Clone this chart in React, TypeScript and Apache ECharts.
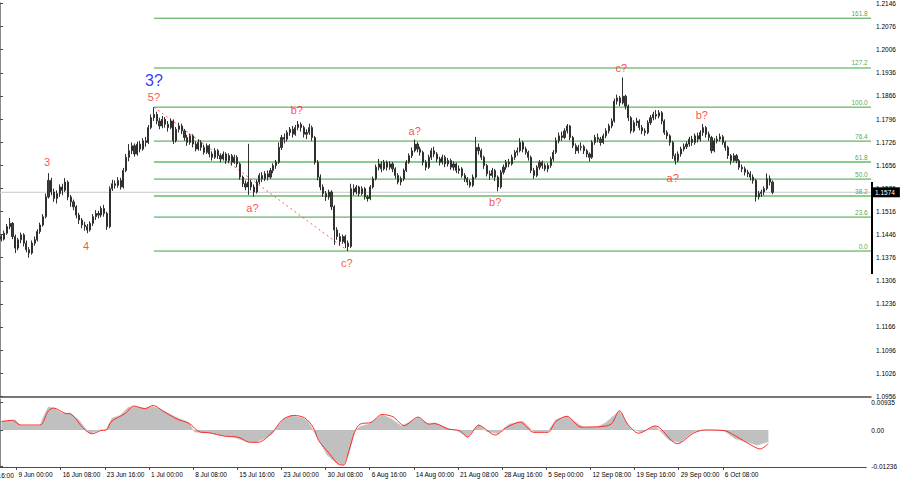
import React, { useEffect, useRef } from 'react';
import * as echarts from 'echarts';

// [open, close, low, high] per bar
const candles: number[][] = [
  [1.1440,1.1432,1.1425,1.1446],[1.1432,1.1450,1.1428,1.1458],[1.1450,1.1470,1.1445,1.1478],[1.1470,1.1480,1.1462,1.1496],
  [1.1480,1.1440,1.1432,1.1484],[1.1440,1.1405,1.1390,1.1446],[1.1405,1.1430,1.1398,1.1436],[1.1430,1.1445,1.1420,1.1452],
  [1.1445,1.1420,1.1410,1.1450],[1.1420,1.1400,1.1392,1.1428],[1.1400,1.1390,1.1376,1.1408],[1.1390,1.1420,1.1385,1.1428],
  [1.1420,1.1430,1.1412,1.1440],[1.1430,1.1455,1.1425,1.1462],[1.1455,1.1475,1.1448,1.1482],[1.1475,1.1500,1.1470,1.1508],
  [1.1500,1.1560,1.1495,1.1570],[1.1560,1.1610,1.1555,1.1632],[1.1610,1.1575,1.1565,1.1618],[1.1575,1.1555,1.1545,1.1585],
  [1.1555,1.1570,1.1540,1.1580],[1.1570,1.1590,1.1560,1.1598],[1.1590,1.1580,1.1565,1.1600],[1.1580,1.1605,1.1575,1.1617],
  [1.1605,1.1560,1.1550,1.1610],[1.1560,1.1545,1.1530,1.1566],[1.1545,1.1530,1.1520,1.1552],[1.1530,1.1505,1.1495,1.1535],
  [1.1505,1.1490,1.1478,1.1512],[1.1490,1.1475,1.1465,1.1496],[1.1475,1.1470,1.1458,1.1485],[1.1470,1.1460,1.1450,1.1478],
  [1.1460,1.1480,1.1455,1.1486],[1.1480,1.1500,1.1472,1.1508],[1.1500,1.1510,1.1490,1.1520],[1.1510,1.1505,1.1495,1.1518],
  [1.1505,1.1525,1.1498,1.1532],[1.1525,1.1510,1.1500,1.1536],[1.1510,1.1470,1.1460,1.1515],[1.1470,1.1585,1.1465,1.1592],
  [1.1585,1.1600,1.1578,1.1612],[1.1600,1.1595,1.1585,1.1610],[1.1595,1.1610,1.1588,1.1620],[1.1610,1.1590,1.1582,1.1618],
  [1.1590,1.1640,1.1585,1.1648],[1.1640,1.1680,1.1635,1.1690],[1.1680,1.1700,1.1668,1.1720],[1.1700,1.1715,1.1690,1.1725],
  [1.1715,1.1690,1.1682,1.1722],[1.1690,1.1720,1.1685,1.1728],[1.1720,1.1705,1.1695,1.1730],[1.1705,1.1730,1.1700,1.1738],
  [1.1730,1.1725,1.1712,1.1742],[1.1725,1.1770,1.1720,1.1778],[1.1770,1.1800,1.1765,1.1810],[1.1800,1.1810,1.1790,1.1832],
  [1.1810,1.1790,1.1780,1.1818],[1.1790,1.1775,1.1765,1.1800],[1.1775,1.1795,1.1768,1.1805],[1.1795,1.1780,1.1770,1.1802],
  [1.1780,1.1770,1.1758,1.1790],[1.1770,1.1790,1.1765,1.1798],[1.1790,1.1730,1.1720,1.1795],[1.1730,1.1765,1.1725,1.1772],
  [1.1765,1.1775,1.1755,1.1785],[1.1775,1.1760,1.1750,1.1782],[1.1760,1.1740,1.1730,1.1766],[1.1740,1.1725,1.1715,1.1748],
  [1.1725,1.1745,1.1718,1.1752],[1.1745,1.1720,1.1710,1.1750],[1.1720,1.1705,1.1698,1.1728],[1.1705,1.1725,1.1700,1.1735],
  [1.1725,1.1710,1.1700,1.1732],[1.1710,1.1695,1.1688,1.1718],[1.1695,1.1715,1.1690,1.1722],[1.1715,1.1690,1.1680,1.1720],
  [1.1690,1.1680,1.1670,1.1698],[1.1680,1.1700,1.1675,1.1708],[1.1700,1.1685,1.1675,1.1705],[1.1685,1.1675,1.1665,1.1692],
  [1.1675,1.1690,1.1670,1.1698],[1.1690,1.1670,1.1660,1.1695],[1.1670,1.1685,1.1662,1.1692],[1.1685,1.1665,1.1655,1.1690],
  [1.1665,1.1680,1.1660,1.1688],[1.1680,1.1660,1.1650,1.1686],[1.1660,1.1620,1.1612,1.1665],[1.1620,1.1600,1.1590,1.1625],
  [1.1600,1.1590,1.1580,1.1610],[1.1590,1.1605,1.1566,1.1721],[1.1605,1.1590,1.1580,1.1612],[1.1590,1.1575,1.1561,1.1598],
  [1.1575,1.1605,1.1570,1.1612],[1.1605,1.1625,1.1598,1.1632],[1.1625,1.1615,1.1605,1.1635],[1.1615,1.1630,1.1608,1.1638],
  [1.1630,1.1620,1.1610,1.1640],[1.1620,1.1640,1.1615,1.1648],[1.1640,1.1655,1.1632,1.1662],[1.1655,1.1665,1.1645,1.1672],
  [1.1665,1.1710,1.1660,1.1725],[1.1710,1.1740,1.1702,1.1748],[1.1740,1.1735,1.1722,1.1752],[1.1735,1.1755,1.1728,1.1762],
  [1.1755,1.1765,1.1745,1.1772],[1.1765,1.1750,1.1740,1.1775],[1.1750,1.1770,1.1745,1.1778],[1.1770,1.1780,1.1762,1.1790],
  [1.1780,1.1770,1.1758,1.1786],[1.1770,1.1750,1.1740,1.1776],[1.1750,1.1755,1.1735,1.1765],[1.1755,1.1770,1.1748,1.1782],
  [1.1770,1.1740,1.1730,1.1776],[1.1740,1.1665,1.1658,1.1745],[1.1665,1.1620,1.1610,1.1672],[1.1620,1.1590,1.1580,1.1628],
  [1.1590,1.1570,1.1560,1.1598],[1.1570,1.1560,1.1548,1.1578],[1.1560,1.1575,1.1552,1.1582],[1.1575,1.1530,1.1520,1.1580],
  [1.1530,1.1460,1.1415,1.1535],[1.1460,1.1440,1.1430,1.1468],[1.1440,1.1425,1.1412,1.1450],[1.1425,1.1440,1.1418,1.1446],
  [1.1440,1.1420,1.1405,1.1445],[1.1420,1.1410,1.1396,1.1428],[1.1410,1.1585,1.1405,1.1600],[1.1585,1.1575,1.1565,1.1598],
  [1.1575,1.1590,1.1568,1.1596],[1.1590,1.1570,1.1562,1.1594],[1.1570,1.1585,1.1565,1.1592],[1.1585,1.1560,1.1552,1.1590],
  [1.1560,1.1555,1.1546,1.1566],[1.1555,1.1590,1.1550,1.1596],[1.1590,1.1615,1.1585,1.1622],[1.1615,1.1650,1.1610,1.1658],
  [1.1650,1.1660,1.1640,1.1675],[1.1660,1.1645,1.1635,1.1668],[1.1645,1.1665,1.1640,1.1672],[1.1665,1.1650,1.1640,1.1670],
  [1.1650,1.1660,1.1642,1.1668],[1.1660,1.1645,1.1635,1.1666],[1.1645,1.1625,1.1615,1.1650],[1.1625,1.1605,1.1598,1.1632],
  [1.1605,1.1615,1.1595,1.1622],[1.1615,1.1640,1.1608,1.1646],[1.1640,1.1665,1.1635,1.1672],[1.1665,1.1685,1.1660,1.1692],
  [1.1685,1.1700,1.1678,1.1710],[1.1700,1.1720,1.1695,1.1734],[1.1720,1.1705,1.1695,1.1726],[1.1705,1.1695,1.1685,1.1712],
  [1.1695,1.1665,1.1655,1.1700],[1.1665,1.1650,1.1640,1.1672],[1.1650,1.1680,1.1645,1.1688],[1.1680,1.1700,1.1672,1.1708],
  [1.1700,1.1690,1.1680,1.1712],[1.1690,1.1675,1.1665,1.1696],[1.1675,1.1665,1.1655,1.1682],[1.1665,1.1680,1.1658,1.1688],
  [1.1680,1.1660,1.1650,1.1686],[1.1660,1.1670,1.1652,1.1678],[1.1670,1.1650,1.1642,1.1676],[1.1650,1.1660,1.1640,1.1668],
  [1.1660,1.1640,1.1632,1.1664],[1.1640,1.1645,1.1630,1.1655],[1.1645,1.1625,1.1618,1.1650],[1.1625,1.1615,1.1605,1.1632],
  [1.1615,1.1605,1.1595,1.1620],[1.1605,1.1595,1.1588,1.1612],[1.1595,1.1620,1.1590,1.1628],[1.1620,1.1710,1.1615,1.1742],
  [1.1710,1.1700,1.1688,1.1722],[1.1700,1.1680,1.1672,1.1706],[1.1680,1.1655,1.1645,1.1685],[1.1655,1.1630,1.1622,1.1660],
  [1.1630,1.1625,1.1612,1.1640],[1.1625,1.1640,1.1618,1.1648],[1.1640,1.1620,1.1608,1.1645],[1.1620,1.1590,1.1577,1.1625],
  [1.1590,1.1635,1.1585,1.1642],[1.1635,1.1650,1.1628,1.1658],[1.1650,1.1665,1.1642,1.1672],[1.1665,1.1660,1.1650,1.1675],
  [1.1660,1.1680,1.1655,1.1688],[1.1680,1.1695,1.1672,1.1702],[1.1695,1.1700,1.1685,1.1710],[1.1700,1.1725,1.1695,1.1738],
  [1.1725,1.1705,1.1695,1.1730],[1.1705,1.1695,1.1688,1.1712],[1.1695,1.1680,1.1670,1.1700],[1.1680,1.1640,1.1632,1.1685],
  [1.1640,1.1625,1.1615,1.1648],[1.1625,1.1650,1.1620,1.1656],[1.1650,1.1665,1.1642,1.1672],[1.1665,1.1655,1.1645,1.1670],
  [1.1655,1.1645,1.1638,1.1662],[1.1645,1.1655,1.1635,1.1662],[1.1655,1.1675,1.1648,1.1682],[1.1675,1.1695,1.1668,1.1702],
  [1.1695,1.1730,1.1690,1.1740],[1.1730,1.1745,1.1722,1.1755],[1.1745,1.1740,1.1730,1.1758],[1.1740,1.1760,1.1735,1.1768],
  [1.1760,1.1775,1.1752,1.1781],[1.1775,1.1740,1.1732,1.1778],[1.1740,1.1715,1.1708,1.1745],[1.1715,1.1700,1.1690,1.1722],
  [1.1700,1.1710,1.1692,1.1718],[1.1710,1.1712,1.1700,1.1725],[1.1712,1.1700,1.1690,1.1718],[1.1700,1.1690,1.1680,1.1705],
  [1.1690,1.1680,1.1667,1.1695],[1.1680,1.1725,1.1675,1.1732],[1.1725,1.1740,1.1718,1.1748],[1.1740,1.1735,1.1725,1.1752],
  [1.1735,1.1725,1.1715,1.1742],[1.1725,1.1745,1.1720,1.1752],[1.1745,1.1760,1.1738,1.1768],[1.1760,1.1775,1.1752,1.1782],
  [1.1775,1.1790,1.1768,1.1798],[1.1790,1.1850,1.1785,1.1858],[1.1850,1.1860,1.1840,1.1870],[1.1860,1.1845,1.1835,1.1866],
  [1.1845,1.1865,1.1840,1.1922],[1.1865,1.1835,1.1825,1.1870],[1.1835,1.1800,1.1790,1.1840],[1.1800,1.1760,1.1752,1.1805],
  [1.1760,1.1785,1.1755,1.1792],[1.1785,1.1790,1.1775,1.1800],[1.1790,1.1770,1.1762,1.1795],[1.1770,1.1760,1.1750,1.1778],
  [1.1760,1.1755,1.1745,1.1768],[1.1755,1.1785,1.1750,1.1792],[1.1785,1.1800,1.1778,1.1808],[1.1800,1.1810,1.1792,1.1818],
  [1.1810,1.1805,1.1795,1.1823],[1.1805,1.1815,1.1798,1.1823],[1.1815,1.1790,1.1780,1.1820],[1.1790,1.1755,1.1748,1.1795],
  [1.1755,1.1745,1.1735,1.1762],[1.1745,1.1725,1.1715,1.1750],[1.1725,1.1685,1.1675,1.1730],[1.1685,1.1670,1.1658,1.1692],
  [1.1670,1.1690,1.1665,1.1698],[1.1690,1.1705,1.1682,1.1712],[1.1705,1.1712,1.1698,1.1722],[1.1712,1.1720,1.1705,1.1728],
  [1.1720,1.1735,1.1712,1.1742],[1.1735,1.1725,1.1715,1.1745],[1.1725,1.1745,1.1718,1.1752],[1.1745,1.1735,1.1725,1.1755],
  [1.1735,1.1755,1.1728,1.1762],[1.1755,1.1770,1.1745,1.1781],[1.1770,1.1750,1.1740,1.1775],[1.1750,1.1740,1.1730,1.1758],
  [1.1740,1.1700,1.1692,1.1745],[1.1700,1.1730,1.1695,1.1738],[1.1730,1.1735,1.1722,1.1745],[1.1735,1.1742,1.1728,1.1752],
  [1.1742,1.1725,1.1718,1.1748],[1.1725,1.1710,1.1700,1.1730],[1.1710,1.1685,1.1675,1.1715],[1.1685,1.1670,1.1658,1.1690],
  [1.1670,1.1685,1.1665,1.1692],[1.1685,1.1670,1.1662,1.1690],[1.1670,1.1650,1.1642,1.1675],[1.1650,1.1645,1.1635,1.1658],
  [1.1645,1.1635,1.1625,1.1652],[1.1635,1.1630,1.1620,1.1642],[1.1630,1.1620,1.1610,1.1638],[1.1620,1.1610,1.1600,1.1628],
  [1.1610,1.1560,1.1546,1.1615],[1.1560,1.1570,1.1552,1.1578],[1.1570,1.1575,1.1560,1.1582],[1.1575,1.1585,1.1565,1.1592],
  [1.1585,1.1615,1.1580,1.1631],[1.1615,1.1605,1.1595,1.1625],[1.1605,1.1574,1.1568,1.1610],
];

const priceTicks = [1.0956, 1.1026, 1.1096, 1.1166, 1.1236, 1.1306, 1.1376, 1.1446, 1.1516, 1.1586,
  1.1656, 1.1726, 1.1796, 1.1866, 1.1936, 1.2006, 1.2076, 1.2146];
const oscTicks = [-0.01236, 0, 0.00935];
const oscTickLabels = ['-0.01236', '0.00', '0.00935'];
const dateLabels = ['30 May 16:00', '9 Jun 00:00', '16 Jun 08:00', '23 Jun 16:00', '1 Jul 00:00', '8 Jul 08:00',
  '15 Jul 16:00', '23 Jul 00:00', '30 Jul 08:00', '6 Aug 16:00', '14 Aug 00:00', '21 Aug 08:00',
  '28 Aug 16:00', '5 Sep 00:00', '12 Sep 08:00', '19 Sep 16:00', '29 Sep 00:00', '6 Oct 08:00'];
const fibLevels = [0.0, 23.6, 38.2, 50.0, 61.8, 76.4, 100.0, 127.2, 161.8];
const fibHighBar = 55;
const fibHigh = 1.1832;
const fibLowBar = 125;
const fibLow = 1.1396;
const lastPrice = 1.1574;

// [bar, value]
const macdHist: number[][] = [
  [0,0.0030],[4,0.0033],[5,0.0035],[7,0.0014],[14,0.0014],[15,0.0040],[17,0.0079],[19,0.0075],[22,0.0057],
  [25,0.0058],[28,0.0035],[32,-0.0013],[36,0.0000],[38,0.0002],[40,0.0040],[43,0.0050],[46,0.0078],[49,0.0080],
  [52,0.0074],[55,0.0080],[58,0.0070],[63,0.0045],[68,0.0025],[70,-0.0007],[75,-0.0010],[81,-0.0020],[84,-0.0024],
  [89,-0.0040],[92,-0.0043],[95,-0.0030],[98,-0.0015],[102,0.0035],[105,0.0049],[109,0.0042],[111,0.0030],
  [113,0.0000],[116,-0.0050],[118,-0.0085],[121,-0.0110],[124,-0.0120],[126,-0.0080],[128,-0.0005],[130,0.0012],
  [133,0.0020],[138,0.0052],[141,0.0040],[145,0.0014],[151,0.0043],[155,0.0020],[157,0.0025],[162,0.0005],
  [165,-0.0002],[169,-0.0024],[173,0.0020],[176,-0.0005],[180,-0.0012],[184,0.0020],[189,0.0030],[193,-0.0006],
  [198,-0.0006],[201,0.0035],[205,0.0046],[211,0.0009],[216,0.0010],[219,0.0025],[224,0.0065],[228,0.0005],
  [232,-0.0008],[237,0.0014],[242,-0.0035],[246,-0.0043],[251,-0.0005],[255,0.0000],[262,-0.0003],[266,-0.0030],
  [270,-0.0040],[274,-0.0052],[278,-0.0040],
];
const macdSignal: number[][] = [
  [0,0.0029],[4,0.0033],[7,0.0017],[14,0.0017],[17,0.0065],[19,0.0075],[23,0.0057],[25,0.0055],[30,0.0003],
  [33,-0.0013],[36,-0.0002],[38,0.0000],[40,0.0030],[45,0.0057],[48,0.0082],[52,0.0073],[55,0.0084],[59,0.0062],
  [64,0.0036],[68,0.0023],[72,-0.0007],[75,-0.0009],[81,-0.0021],[86,-0.0025],[90,-0.0042],[93,-0.0042],
  [98,-0.0010],[102,0.0036],[106,0.0050],[110,0.0041],[113,0.0009],[115,-0.0036],[119,-0.0082],[122,-0.0116],
  [124,-0.0120],[126,-0.0070],[128,-0.0008],[130,0.0020],[134,0.0026],[138,0.0053],[142,0.0045],[146,0.0015],
  [151,0.0044],[155,0.0020],[157,0.0022],[162,0.0003],[166,-0.0002],[169,-0.0024],[173,0.0016],[179,-0.0017],
  [183,0.0008],[188,0.0027],[193,-0.0008],[198,-0.0008],[201,0.0030],[205,0.0047],[210,0.0010],[216,0.0011],
  [221,0.0020],[224,0.0066],[227,0.0020],[231,-0.0011],[237,0.0014],[245,-0.0047],[251,-0.0010],[255,0.0000],
  [262,-0.0002],[266,-0.0020],[272,-0.0053],[275,-0.0065],[278,-0.0046],
];

// wave annotations: text, bar, price
const waveText = ['3', '4', '3?', '5?', 'a?', 'b?', 'c?', 'a?', 'b?', 'c?', 'a?', 'b?'];
const waveBar = [17, 31, 55.5, 55.5, 91, 107, 125, 149.5, 178.5, 224, 242.5, 253];
const wavePrice = [1.1667, 1.1411, 1.1914, 1.1862, 1.1525, 1.1823, 1.1360, 1.1760, 1.1546, 1.1952, 1.1616, 1.1808];

const TOTAL_BARS = 314;
const FIRST_LABEL_BAR = -10;
const BARS_PER_LABEL = 16;
const FONT = 'Liberation Sans, Arial, sans-serif';
const RED = '#ff1a1a';
const GREEN = '#3fa33f';

export default function App() {
  const ref = useRef<HTMLDivElement>(null);
  useEffect(() => {
    if (!ref.current) return;
    const chart = echarts.init(ref.current, undefined, { renderer: 'svg' });
    const categories = Array.from({ length: TOTAL_BARS }, (_, i) => String(i));
    const dateBars = dateLabels.map((_, k) => FIRST_LABEL_BAR + k * BARS_PER_LABEL).filter((b) => b >= 0);
    const fibRange = fibHigh - fibLow;

    const fibSeries = fibLevels.map((lv) => {
      const p = fibLow + (fibRange * lv) / 100;
      const light = lv === 38.2 || lv === 61.8;
      return {
        type: 'line',
        xAxisIndex: 1,
        yAxisIndex: 0,
        data: [[fibHighBar + 0.5, p], [TOTAL_BARS, p]],
        symbol: 'none',
        silent: true,
        z: 1,
        lineStyle: { color: light ? '#8ccc8c' : GREEN, width: light ? 2 : 1 },
      };
    });
    const fibLabelSeries = {
      type: 'scatter',
      xAxisIndex: 1,
      yAxisIndex: 0,
      symbolSize: 1,
      itemStyle: { color: 'rgba(0,0,0,0)' },
      silent: true,
      z: 6,
      data: fibLevels.map((lv) => ({ name: lv.toFixed(1), value: [TOTAL_BARS - 1, fibLow + (fibRange * lv) / 100] })),
      label: {
        show: true,
        position: 'left',
        distance: 0,
        offset: [0, -5],
        formatter: '{b}',
        color: '#1f8a1f',
        fontSize: 6.5,
        fontFamily: FONT,
      },
    };
    const waveSeries = {
      type: 'scatter',
      xAxisIndex: 1,
      yAxisIndex: 0,
      symbolSize: 1,
      itemStyle: { color: 'rgba(0,0,0,0)' },
      silent: true,
      z: 7,
      data: waveText.map((t, i) => ({
        name: t,
        value: [waveBar[i], wavePrice[i]],
        label: t === '3?' ? { color: '#0000ff', fontSize: 16 } : { color: RED, fontSize: 11 },
      })),
      label: { show: true, position: 'inside', formatter: '{b}', fontFamily: FONT },
    };

    const option: any = {
      animation: false,
      backgroundColor: '#ffffff',
      textStyle: { fontFamily: FONT },
      grid: [
        { left: 0, top: 0, width: 871, height: 397 },
        { left: 0, top: 399, width: 871, height: 68 },
      ],
      xAxis: [
        {
          type: 'category', gridIndex: 0, data: categories, boundaryGap: true,
          axisLine: { show: true, onZero: false, lineStyle: { color: '#4a4a4a', width: 1.5 } },
          axisTick: { show: false }, axisLabel: { show: false }, splitLine: { show: false },
        },
        { type: 'value', gridIndex: 0, min: 0, max: TOTAL_BARS, show: false },
        {
          type: 'value', gridIndex: 1, min: 0, max: TOTAL_BARS,
          splitLine: { show: false },
          axisLine: { show: true, onZero: false, lineStyle: { color: '#4a4a4a', width: 1 } },
          axisTick: { show: true, customValues: dateBars, length: 3, lineStyle: { color: '#4a4a4a' } },
          axisLabel: {
            customValues: dateBars,
            formatter: (v: number) => dateLabels[Math.round((v - FIRST_LABEL_BAR) / BARS_PER_LABEL)] || '',
            align: 'left', padding: [0, 0, 0, 2], fontSize: 6.5, color: '#000', margin: 4, fontFamily: FONT,
          },
        },
      ],
      yAxis: [
        {
          type: 'value', gridIndex: 0, position: 'right', min: 1.09538, max: 1.21482,
          splitLine: { show: false },
          axisLine: { show: true, lineStyle: { color: '#8a8a8a' } },
          axisTick: { show: true, customValues: priceTicks, length: 3, lineStyle: { color: '#4a4a4a' } },
          axisLabel: {
            customValues: priceTicks, formatter: (v: number) => v.toFixed(4),
            fontSize: 6.5, color: '#000', margin: 5, fontFamily: FONT,
          },
        },
        {
          type: 'value', gridIndex: 1, position: 'right', min: -0.01265, max: 0.0106,
          splitLine: { show: false },
          axisLine: { show: true, lineStyle: { color: '#8a8a8a' } },
          axisTick: { show: true, customValues: oscTicks, length: 3, lineStyle: { color: '#4a4a4a' } },
          axisLabel: {
            customValues: oscTicks,
            formatter: (v: number) => {
              let best = 0;
              oscTicks.forEach((t, i) => { if (Math.abs(t - v) < Math.abs(oscTicks[best] - v)) best = i; });
              return oscTickLabels[best];
            },
            fontSize: 6.5, color: '#000', margin: 5, fontFamily: FONT,
          },
        },
      ],
      series: [
        {
          type: 'line', xAxisIndex: 1, yAxisIndex: 0, symbol: 'none', silent: true, z: 1,
          data: [[0, lastPrice], [TOTAL_BARS, lastPrice]],
          lineStyle: { color: '#c8c8c8', width: 1 },
          endLabel: {
            show: true, distance: 1, formatter: () => lastPrice.toFixed(4),
            backgroundColor: '#000', color: '#fff', padding: [2, 5, 1, 3], fontSize: 6.5, fontFamily: FONT,
          },
        },
        ...fibSeries,
        {
          type: 'line', xAxisIndex: 1, yAxisIndex: 0, symbol: 'none', silent: true, z: 3,
          data: [[fibHighBar + 0.5, fibHigh], [fibLowBar + 0.5, fibLow]],
          lineStyle: { color: '#ff5a5a', width: 1, type: [2, 3] },
        },
        {
          type: 'candlestick', xAxisIndex: 0, yAxisIndex: 0, data: candles, barWidth: 1.6, z: 4,
          itemStyle: { color: '#404040', color0: '#404040', borderColor: '#303030', borderColor0: '#303030', borderWidth: 1 },
        },
        fibLabelSeries,
        waveSeries,
        {
          type: 'line', xAxisIndex: 2, yAxisIndex: 1, symbol: 'none', silent: true, z: 2,
          data: macdHist.map(([b, v]) => [b + 0.5, v]),
          lineStyle: { width: 0.5, color: '#c0c0c0' },
          areaStyle: { color: '#c0c0c0', opacity: 1 },
        },
        {
          type: 'line', xAxisIndex: 2, yAxisIndex: 1, symbol: 'none', silent: true, z: 3, smooth: 0.3,
          data: macdSignal.map(([b, v]) => [b + 0.5, v]),
          lineStyle: { width: 1, color: '#ff2a2a' },
        },
      ],
    };
    chart.setOption(option);

    const firstX = chart.convertToPixel({ xAxisIndex: 2 }, FIRST_LABEL_BAR) as number;
    chart.setOption({
      graphic: [
        { type: 'rect', shape: { x: 871, y: 182, width: 2, height: 92 }, style: { fill: '#000' }, z: 10 },
        {
          type: 'text', x: firstX + 2, y: 472,
          style: { text: dateLabels[0], fontSize: 6.5, fontFamily: FONT, fill: '#000', textAlign: 'left', textVerticalAlign: 'top' },
        },
      ],
    });
    return () => chart.dispose();
  }, []);
  return <div ref={ref} style={{ position: 'fixed', left: 0, top: 0, width: 900, height: 485, background: '#fff' }} />;
}
